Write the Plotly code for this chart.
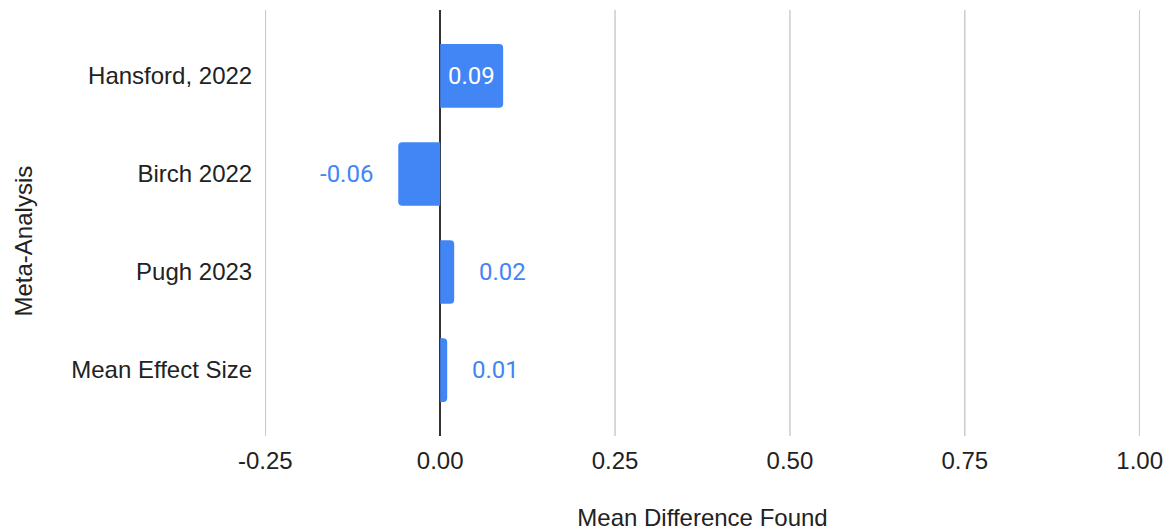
import plotly.graph_objects as go

categories = ["Hansford, 2022", "Birch 2022", "Pugh 2023", "Mean Effect Size"]
values = [0.09, -0.06, 0.02, 0.01]
x_ticks = [-0.25, 0.0, 0.25, 0.5, 0.75, 1.0]
x_tick_labels = ["-0.25", "0.00", "0.25", "0.50", "0.75", "1.00"]

BLUE = "#4285F4"
TICK_FONT = dict(family="Liberation Sans, Arial, sans-serif", size=24, color="#222222")
LABEL_FONT = "Roboto, sans-serif"

# page body has an 8px default margin; compensate so the plot lands where the reference has it
OFF = 8
W, H = 1173 - OFF, 531 - OFF
PLOT_L, PLOT_R, PLOT_T, PLOT_B = 265, 1140, 10, 436

fig = go.Figure()
fig.add_trace(go.Bar(
    y=categories,
    x=values,
    orientation="h",
    marker=dict(color=BLUE, line=dict(width=0), cornerradius=4),
    width=0.65,
    hoverinfo="x+y",
))

annotations = []
for c, v in zip(categories, values):
    txt = f"{v:.2f}"
    if abs(v) >= 0.08:
        annotations.append(dict(x=v / 2, y=c, xref="x", yref="y", text=txt, showarrow=False,
                                xanchor="center", yanchor="middle",
                                font=dict(family=LABEL_FONT, size=24, color="white")))
    elif v >= 0:
        annotations.append(dict(x=v, y=c, xref="x", yref="y", text=txt, showarrow=False,
                                xanchor="left", yanchor="middle", xshift=23,
                                font=dict(family=LABEL_FONT, size=24, color=BLUE)))
    else:
        annotations.append(dict(x=v, y=c, xref="x", yref="y", text=txt, showarrow=False,
                                xanchor="right", yanchor="middle", xshift=-23,
                                font=dict(family=LABEL_FONT, size=24, color=BLUE)))

pw = PLOT_R - PLOT_L
ph = PLOT_B - PLOT_T
annotations.append(dict(x=(23 - PLOT_L) / pw, y=(PLOT_B - 241.5) / ph, xref="paper", yref="paper",
                        text="Meta-Analysis", showarrow=False, textangle=-90,
                        xanchor="center", yanchor="middle", font=TICK_FONT))

# gridlines (drawn as shapes so the ones on the range edges are visible too)
shapes = [dict(type="line", xref="x", yref="paper", x0=t, x1=t, y0=0, y1=1,
               line=dict(color="#cccccc", width=1.5), layer="below")
          for t in x_ticks if t != 0]

fig.update_layout(
    width=W, height=H,
    margin=dict(l=PLOT_L - OFF, r=1173 - PLOT_R, t=PLOT_T - OFF, b=531 - PLOT_B, autoexpand=False),
    paper_bgcolor="white", plot_bgcolor="white",
    showlegend=False,
    annotations=annotations,
    shapes=shapes,
    xaxis=dict(
        range=[-0.2505, 1.0005],
        tickvals=x_ticks, ticktext=x_tick_labels,
        showgrid=False,
        zeroline=True, zerolinecolor="#333333", zerolinewidth=1.5,
        tickfont=TICK_FONT,
        ticks="outside", ticklen=3, tickcolor="rgba(0,0,0,0)",
        title=dict(text="Mean Difference Found", font=TICK_FONT, standoff=52),
        showline=False,
    ),
    yaxis=dict(
        categoryorder="array", categoryarray=categories,
        range=[3.673, -0.673],
        showgrid=False, zeroline=False,
        tickfont=TICK_FONT,
        ticks="outside", ticklen=7, tickcolor="rgba(0,0,0,0)",
        showline=False,
    ),
)

fig.write_html("out.html")
